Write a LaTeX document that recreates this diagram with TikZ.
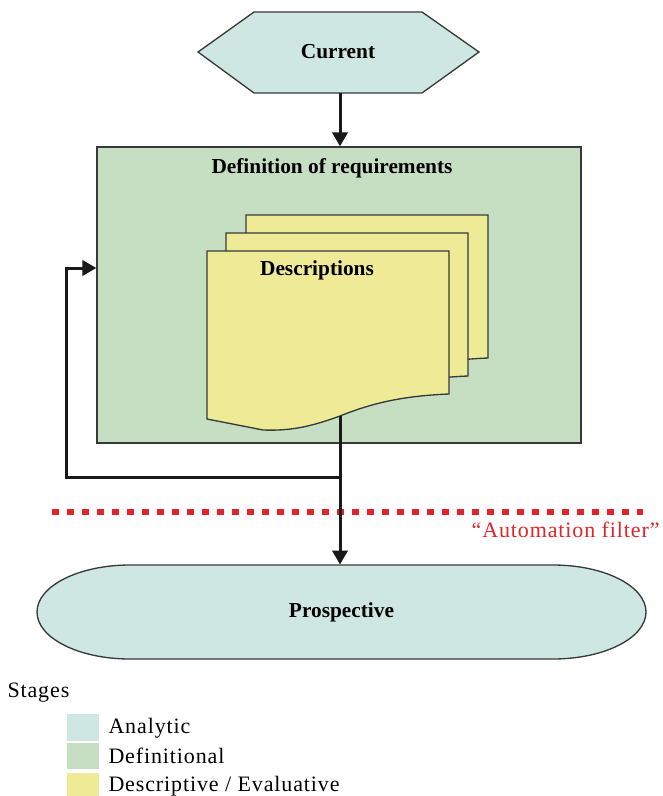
\documentclass[tikz,border=0pt]{standalone}
\usepackage{fontspec}
\setmainfont{Liberation Serif}
\usetikzlibrary{arrows.meta}

\definecolor{analytic}{RGB}{207,231,227}
\definecolor{definitional}{RGB}{198,223,195}
\definecolor{descriptive}{RGB}{238,234,150}
\definecolor{edgegray}{RGB}{55,58,58}
\definecolor{filterred}{RGB}{227,35,42}

\tikzset{every picture/.style={line width=0.75pt}}
\tikzset{
  box/.style={draw=edgegray, line width=1pt},
  flow/.style={draw=black!90, line width=2.25pt, -{Triangle[length=10.5pt,width=11.5pt]}},
  boldlabel/.style={font=\fontsize{16}{19}\selectfont\bfseries, inner sep=0.75pt},
  plainlabel/.style={font=\fontsize{16.5}{20}\selectfont\addfontfeature{LetterSpace=4}, inner sep=0.75pt},
  swatch/.style={minimum width=24pt, minimum height=20pt, inner sep=0pt},
}

\begin{document}
\begin{tikzpicture}[x=0.75pt,y=0.75pt,yscale=-1,xscale=1]
        \useasboundingbox (0,0) rectangle (662,796);

        %Shape: Hexagon [Current]
        \draw[box, fill=analytic] (198,52) -- (254,12) -- (422,12) -- (479,52) -- (422,93) -- (254,93) -- cycle ;
        % Text Node
        \node[boldlabel] (cur) at (338,52) {Current};
        \coordinate (curS) at (340,93);

        %Shape: Rectangle [Definition of requirements]
        \node[box, fill=definitional, minimum width=363pt, minimum height=222pt, inner sep=0pt] (defreq) at (339,295) {};
        % Text Node
        \node[boldlabel] (defreqT) at (332,168) {Definition of requirements};

        %Shape: Documents [back to front]
        \foreach \dx/\dy in {39/-36,19/-18,0/0}
          \draw[box, fill=descriptive, shift={(\dx,\dy)}] (207,251) -- (449,251) -- (449,394) .. controls (400,396) and (370,404) .. (340,416) .. controls (310,427) and (290,431) .. (263,430) -- (207,419) -- cycle ;
        % Text Node
        \node[boldlabel] (desc) at (317,270) {Descriptions};
        \coordinate (descB) at (340,416);

        %Shape: Stadium [Prospective]
        \draw[box, fill=analytic] (130,565) -- (553,565) arc[start angle=-90, end angle=90, x radius=93, y radius=47] -- (130,659) arc[start angle=90, end angle=270, x radius=93, y radius=47] -- cycle ;
        % Text Node
        \node[boldlabel, minimum height=70.5pt] (prosp) at (341.5,612) {Prospective};

        %Dotted Line [automation filter]
        \coordinate (filtL) at (52,512);
        \coordinate (filtR) at (643,512);
        \draw[draw=filterred, line width=5pt, dash pattern=on 5pt off 6.25pt] (filtL) -- (filtR) ;
        % Text Node
        \node[plainlabel, text=filterred, anchor=east] (filt) at (661,530) {“Automation filter”};

        %Arrows
        \draw[flow] (curS) -- (curS |- defreq.north) ;
        \draw[flow] (descB) -- (descB |- prosp.north) ;
        \coordinate (fbk) at (340,477);
        \coordinate (loopL) at (66,268);
        \draw[flow] (fbk) -| (loopL) -- (loopL -| defreq.west) ;

        %Legend
        \node[plainlabel, anchor=west] (stages) at (6,693) {Stages};
        \node[swatch, fill=analytic] (swA) at (83,727.5) {};
        \node[swatch, fill=definitional] (swD) at (83,756) {};
        \node[swatch, fill=descriptive] (swE) at (83,786.5) {};
        % Text Node
        \node[plainlabel, anchor=west] (legA) at (107,728) {Analytic};
        % Text Node
        \node[plainlabel, anchor=west] (legD) at (107,756) {Definitional};
        % Text Node
        \node[plainlabel, anchor=west] (legE) at (107,786) {Descriptive / Evaluative};

\end{tikzpicture}
\end{document}
